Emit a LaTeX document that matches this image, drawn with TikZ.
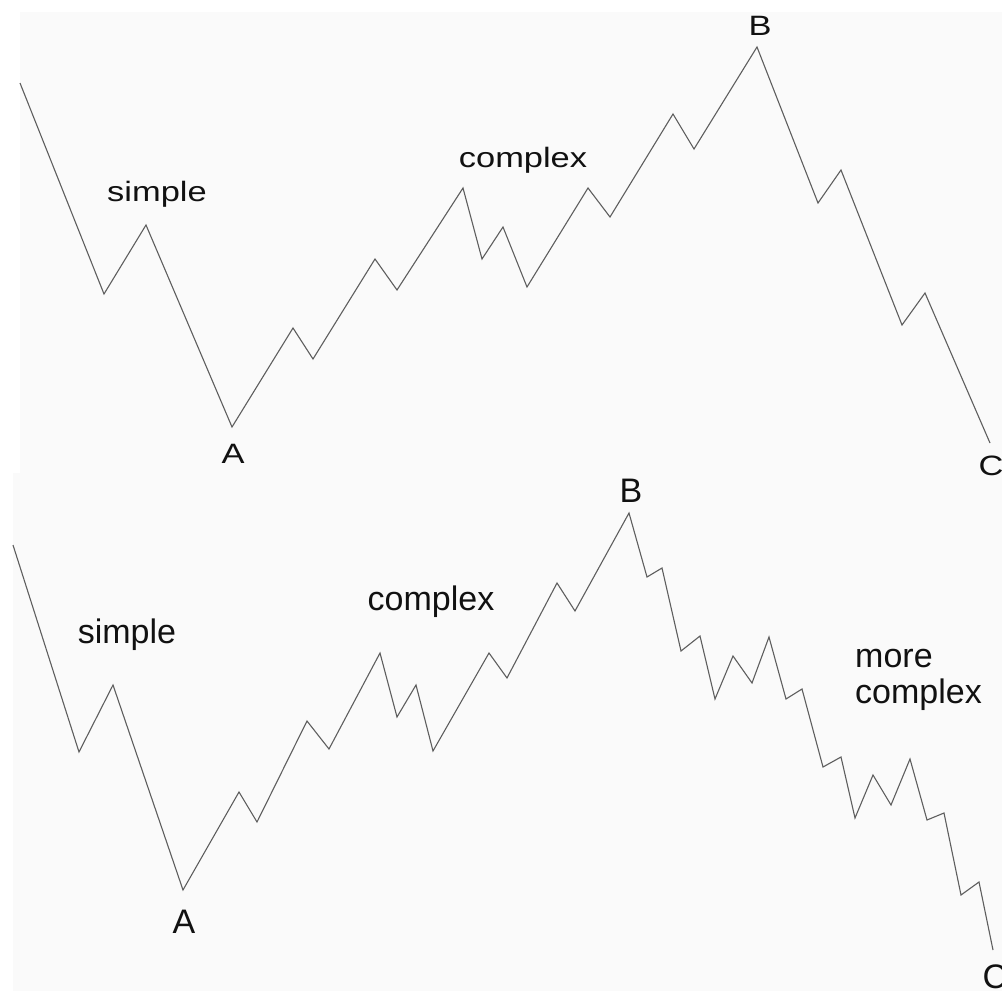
\documentclass[tikz,border=0pt]{standalone}
\usepackage{fontspec}
\setmainfont{Liberation Sans}
\newfontfamily\wideSans[FakeStretch=1.23]{Liberation Sans}
\usetikzlibrary{positioning}
\definecolor{cWave}{HTML}{5E5E5E}
\definecolor{cPanel}{HTML}{FAFAFA}
\definecolor{cInk}{HTML}{111111}

\begin{document}
\begin{tikzpicture}[
  x=1pt, y=-1pt,
  wave/.style={draw=cWave, line width=1.1pt, line join=miter},
  panel/.style={fill=cPanel, draw=none},
  toplbl/.style={inner sep=0pt, anchor=base, text=cInk,
                 font=\wideSans\fontsize{28}{34}\selectfont},
  botlbl/.style={inner sep=0pt, anchor=base, text=cInk,
                 font=\fontsize{34}{36}\selectfont}]

\useasboundingbox (0,0) rectangle (1002,991);
\fill[white] (0,0) rectangle (1002,991);
\path[panel] (20,12) rectangle (1002,473);
\path[panel] (13,473) rectangle (1002,991);

% ---------- top panel ----------
\coordinate (tS) at (20,83);
\coordinate (tA) at (232,427);
\coordinate (tB) at (757,47);
\coordinate (tC) at (990,443);
\draw[wave] (tS) -- (104,294) -- (146,225) -- (tA)
  -- (293,328) -- (313,359) -- (375,259) -- (397,290) -- (463,188)
  -- (482,259) -- (503,227) -- (527,287) -- (588,188) -- (610,217)
  -- (673,114) -- (694,149) -- (tB)
  -- (818,203) -- (841,170) -- (902,325) -- (925,293) -- (tC);

\node[toplbl] (tAlbl) at (233,463) {A};
\node[toplbl] (tBlbl) at (760,35) {B};
\node[toplbl] (tClbl) at (991,475) {C};
\node[toplbl] (tsimple) at (157,201) {simple};
\node[toplbl] (tcomplex) at (523,167) {complex};

% ---------- bottom panel ----------
\coordinate (bS) at (13,545);
\coordinate (bA) at (183,890);
\coordinate (bB) at (629,513);
\coordinate (bC) at (993,950);
\draw[wave] (bS) -- (79,752) -- (113,685) -- (bA)
  -- (239,792) -- (257,822) -- (307,721) -- (329,749) -- (380,653)
  -- (397,717) -- (416,685) -- (433,751) -- (489,653) -- (507,678)
  -- (557,583) -- (575,611) -- (bB)
  -- (647,577) -- (662,568) -- (681,651) -- (700,636) -- (715,699)
  -- (733,656) -- (752,683) -- (769,637) -- (786,699) -- (802,689)
  -- (823,767) -- (841,757) -- (855,818) -- (873,775) -- (891,805)
  -- (910,759) -- (927,820) -- (944,813) -- (961,895) -- (979,882)
  -- (bC);

\node[botlbl] (bAlbl) at (184,933) {A};
\node[botlbl] (bBlbl) at (631,502) {B};
\node[botlbl] (bClbl) at (995,988) {C};
\node[botlbl] (bsimple) at (127,643) {simple};
\node[botlbl] (bcomplex) at (431,610) {complex};
\node[botlbl, anchor=base west] (bmore) at (855,667) {more};
\node[botlbl, anchor=base west] (bmorecx) at (855,703) {complex};
\end{tikzpicture}
\end{document}
